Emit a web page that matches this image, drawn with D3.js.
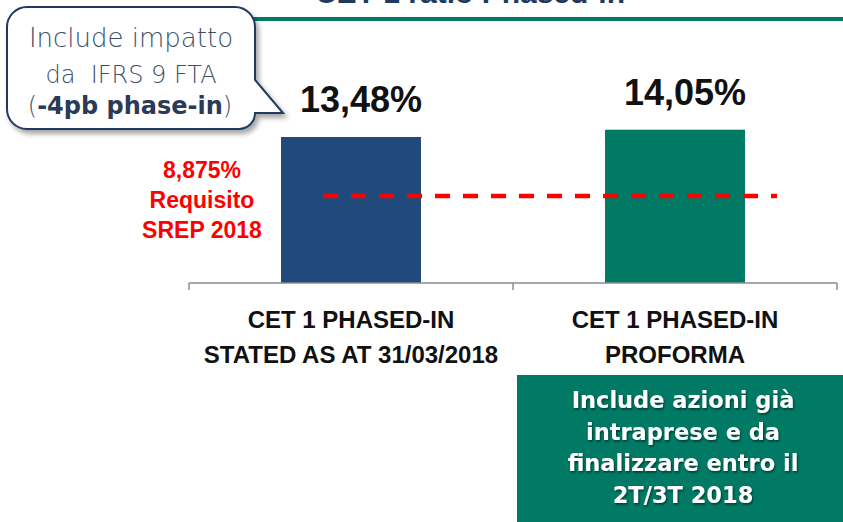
<!DOCTYPE html>
<html>
<head>
<meta charset="utf-8">
<script src="https://cdn.jsdelivr.net/npm/d3@7"></script>
<style>
  html, body { margin: 0; padding: 0; background: #fff; }
  svg { display: block; }
</style>
</head>
<body>
<div id="chart"></div>
<script>
// chart values
const categories = [
  ['CET 1 PHASED-IN', 'STATED AS AT 31/03/2018'],
  ['CET 1 PHASED-IN', 'PROFORMA']
];
const values = [13.48, 14.05];
const valueLabels = ['13,48%', '14,05%'];
const barColors = ['#214a7c', '#007a65'];

const requirement = 8.875;
const requirementLabel = ['8,875%', 'Requisito', 'SREP 2018'];

const titleText = 'CET 1 ratio Phased-in';
const calloutLines = ['Include impatto', 'da  IFRS 9 FTA'];
const calloutBold = '-4pb phase-in';
const noteLines = ['Include azioni già', 'intraprese e da', 'finalizzare entro il', '2T/3T 2018'];

const width = 843;
const height = 522;

const svg = d3.select('#chart')
  .append('svg')
  .attr('width', width)
  .attr('height', height);

const defs = svg.append('defs');
defs.append('filter')
    .attr('id', 'shadow')
    .attr('x', '-10%').attr('y', '-10%')
    .attr('width', '130%').attr('height', '130%')
  .append('feDropShadow')
    .attr('dx', 3).attr('dy', 4)
    .attr('stdDeviation', 2.5)
    .attr('flood-color', '#000')
    .attr('flood-opacity', 0.35);
defs.append('filter')
    .attr('id', 'textshadow')
  .append('feDropShadow')
    .attr('dx', 1).attr('dy', 1.5)
    .attr('stdDeviation', 0.8)
    .attr('flood-color', '#000')
    .attr('flood-opacity', 0.55);

// title (cut off by the top of the slide) and green rule
svg.append('text')
  .attr('x', 470)
  .attr('y', 3)
  .attr('text-anchor', 'middle')
  .attr('font-family', 'Liberation Sans, Arial, sans-serif')
  .attr('font-weight', 'bold')
  .attr('font-size', 30)
  .attr('fill', '#1f3a5f')
  .text(titleText);

svg.append('rect')
  .attr('x', 240)
  .attr('y', 17)
  .attr('width', width - 240)
  .attr('height', 4)
  .attr('fill', '#007a65');

// scales
const xScale = d3.scaleBand()
  .domain(d3.range(categories.length))
  .range([189, 837])
  .paddingInner(0.568)
  .paddingOuter(0.284);

const yScale = d3.scaleLinear()
  .domain([2.1, 14.05])
  .range([283, 129.7]);

const bw = xScale.bandwidth();

// bars
svg.append('g')
  .selectAll('rect')
  .data(values)
  .join('rect')
  .attr('x', (d, i) => xScale(i))
  .attr('y', d => yScale(d))
  .attr('width', bw)
  .attr('height', d => yScale.range()[0] - yScale(d))
  .attr('fill', (d, i) => barColors[i]);

// value labels
svg.append('g')
  .selectAll('text')
  .data(values)
  .join('text')
  .attr('x', (d, i) => xScale(i) + bw / 2 + 10)
  .attr('y', d => yScale(d) - 25)
  .attr('text-anchor', 'middle')
  .attr('font-family', 'Liberation Sans, Arial, sans-serif')
  .attr('font-weight', 'bold')
  .attr('font-size', 36)
  .attr('fill', '#111')
  .text((d, i) => valueLabels[i]);

// category axis: baseline with ticks at band edges
const [r0, r1] = xScale.range();
const axisY = yScale.range()[0];
const tickXs = d3.range(categories.length + 1).map(i => r0 + i * (r1 - r0) / categories.length);
const axis = svg.append('g');
axis.append('line')
  .attr('x1', r0).attr('x2', r1)
  .attr('y1', axisY).attr('y2', axisY)
  .attr('stroke', '#8c8c8c')
  .attr('stroke-width', 1.5);
axis.selectAll('.tick')
  .data(tickXs)
  .join('line')
  .attr('class', 'tick')
  .attr('x1', d => d).attr('x2', d => d)
  .attr('y1', axisY).attr('y2', axisY + 7)
  .attr('stroke', '#8c8c8c')
  .attr('stroke-width', 1.5);

const catLabels = axis.selectAll('.cat')
  .data(categories)
  .join('text')
  .attr('class', 'cat')
  .attr('text-anchor', 'middle')
  .attr('font-family', 'Liberation Sans, Arial, sans-serif')
  .attr('font-weight', 'bold')
  .attr('font-size', 24)
  .attr('fill', '#111');
catLabels.selectAll('tspan')
  .data((d, i) => d.map(t => ({ t, i })))
  .join('tspan')
  .attr('x', d => xScale(d.i) + bw / 2)
  .attr('y', (d, j) => axisY + 45 + j * 35)
  .text(d => d.t);

// requirement dashed line
const reqY = yScale(requirement);
svg.append('line')
  .attr('x1', xScale(0) + 42)
  .attr('x2', xScale(1) + bw + 32)
  .attr('y1', reqY).attr('y2', reqY)
  .attr('stroke', '#ff0000')
  .attr('stroke-width', 4.5)
  .attr('stroke-dasharray', '15,13');

svg.append('g')
  .selectAll('text')
  .data(requirementLabel)
  .join('text')
  .attr('x', 202)
  .attr('y', (d, i) => reqY - 18 + i * 30)
  .attr('text-anchor', 'middle')
  .attr('font-family', 'Liberation Sans, Arial, sans-serif')
  .attr('font-weight', 'bold')
  .attr('font-size', 23)
  .attr('fill', '#ff0000')
  .text(d => d);

// callout bubble
const p = d3.path();
p.moveTo(27, 7);
p.lineTo(235, 7);
p.arcTo(255, 7, 255, 27, 20);
p.lineTo(255, 80);
p.lineTo(283, 113);
p.lineTo(255, 113);
p.arcTo(255, 129, 239, 129, 16);
p.lineTo(27, 129);
p.arcTo(7, 129, 7, 109, 20);
p.lineTo(7, 27);
p.arcTo(7, 7, 27, 7, 20);
p.closePath();

svg.append('path')
  .attr('d', p.toString())
  .attr('fill', '#fff')
  .attr('stroke', '#1f3a5f')
  .attr('stroke-width', 2)
  .attr('filter', 'url(#shadow)');

const callout = svg.append('g')
  .attr('font-family', 'DejaVu Sans, sans-serif')
  .attr('fill', '#3d4f6b');
callout.selectAll('text.l')
  .data(calloutLines)
  .join('text')
  .attr('class', 'l')
  .attr('x', 131)
  .attr('y', (d, i) => 47 + i * 36)
  .attr('text-anchor', 'middle')
  .attr('font-size', (d, i) => i === 0 ? 26 : 24)
  .attr('font-weight', 300)
  .style('white-space', 'pre')
  .text(d => d);
const last = callout.append('text')
  .attr('x', 130)
  .attr('y', 114)
  .attr('text-anchor', 'middle')
  .attr('font-size', 24);
last.append('tspan').attr('font-weight', 300).text('(');
last.append('tspan').attr('font-weight', 'bold').attr('fill', '#2b3a55').text(calloutBold);
last.append('tspan').attr('font-weight', 300).text(')');

// green note box
svg.append('rect')
  .attr('x', 517)
  .attr('y', 375)
  .attr('width', width - 517)
  .attr('height', height - 375)
  .attr('fill', '#007a65');

svg.append('g')
  .attr('filter', 'url(#textshadow)')
  .selectAll('text')
  .data(noteLines)
  .join('text')
  .attr('x', 683)
  .attr('y', (d, i) => 408 + i * 31.5)
  .attr('text-anchor', 'middle')
  .attr('font-family', 'DejaVu Sans, sans-serif')
  .attr('font-weight', 'bold')
  .attr('font-size', 22.5)
  .attr('fill', '#fff')
  .text(d => d);
</script>
</body>
</html>
